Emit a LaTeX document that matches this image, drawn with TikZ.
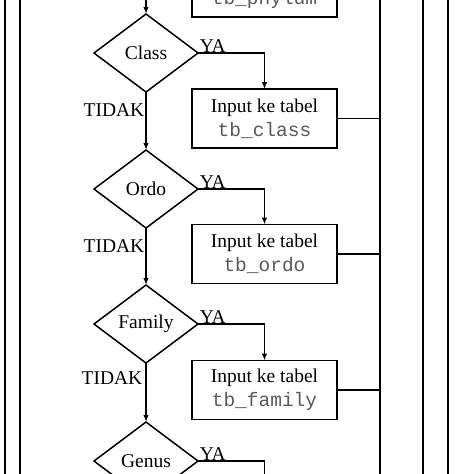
\documentclass[tikz,border=0pt]{standalone}
\usepackage{fontspec}
\setmainfont{Liberation Serif}
\newfontfamily\monofnt{Liberation Mono}
\usetikzlibrary{shapes.geometric,arrows.meta}
\newcommand\tbname[1]{{\monofnt\color{black!65}#1}}
\begin{document}
\begin{tikzpicture}[x=1pt,y=-1pt, line width=1.5pt,
  font=\fontsize{19.5}{24}\selectfont,
  dec/.style={diamond, draw, minimum width=104pt, minimum height=78pt, inner sep=0pt, outer sep=0pt},
  box/.style={draw, rectangle, minimum width=145pt, minimum height=59pt, align=center, inner sep=0pt, outer sep=0pt},
  arr/.style={-{Latex[length=7pt,width=5.5pt]}},
  lab/.style={inner sep=0pt}]
\useasboundingbox (0,0) rectangle (474,474);
\clip (0,0) rectangle (474,474);
% frame lines
\draw (5,-10) -- (5,484);
\draw (20,-10) -- (20,484);
\draw (423,-10) -- (423,484);
\draw (448,-10) -- (448,484);
% collector
\coordinate (cTop) at (380,-10);
\coordinate (cBot) at (380,484);
\draw (cTop) -- (cBot);
% nodes
\node[box] (bp) at (264.5,-12.5) {Input ke tabel\\\tbname{tb\_phylum}};
\node[dec] (dc) at (146,53) {Class};
\node[dec] (do) at (146,189) {Ordo};
\node[dec] (df) at (146,324) {Family};
\node[dec] (dg) at (146,461) {Genus};
\node[box] (bc) at (264.5,118.5) {Input ke tabel\\\tbname{tb\_class}};
\node[box] (bo) at (264.5,254) {Input ke tabel\\\tbname{tb\_ordo}};
\node[box] (bf) at (264.5,390) {Input ke tabel\\\tbname{tb\_family}};
\coordinate (ptop) at (146,-10);
\coordinate (gY) at (264.5,490);
% vertical flow
\draw[arr] (ptop) -- (dc.north);
\draw[arr] (dc.south) -- (do.north);
\draw[arr] (do.south) -- (df.north);
\draw[arr] (df.south) -- (dg.north);
% TIDAK labels
\node[lab, anchor=base east] (tc) at ([xshift=-1pt,yshift=-24pt]dc.south) {TIDAK};
\node[lab, anchor=base east] (to) at ([xshift=-1pt,yshift=-24pt]do.south) {TIDAK};
\node[lab, anchor=base east] (tf) at ([xshift=-3pt,yshift=-21pt]df.south) {TIDAK};
% YA branches
\draw[arr] (dc.east) -| (bc.north);
\draw[arr] (do.east) -| (bo.north);
\draw[arr] (df.east) -| (bf.north);
\draw (dg.east) -| (gY);
\node[lab, anchor=base west] (yc) at ([xshift=1pt,yshift=1pt]dc.east) {YA};
\node[lab, anchor=base west] (yo) at ([xshift=1pt,yshift=1pt]do.east) {YA};
\node[lab, anchor=base west] (yf) at ([xshift=1pt,yshift=1pt]df.east) {YA};
\node[lab, anchor=base west] (yg) at ([xshift=1pt,yshift=1pt]dg.east) {YA};
% to collector
\draw (bc.east) -- (bc.east -| cTop);
\draw (bo.east) -- (bo.east -| cTop);
\draw (bf.east) -- (bf.east -| cTop);
\end{tikzpicture}
\end{document}
